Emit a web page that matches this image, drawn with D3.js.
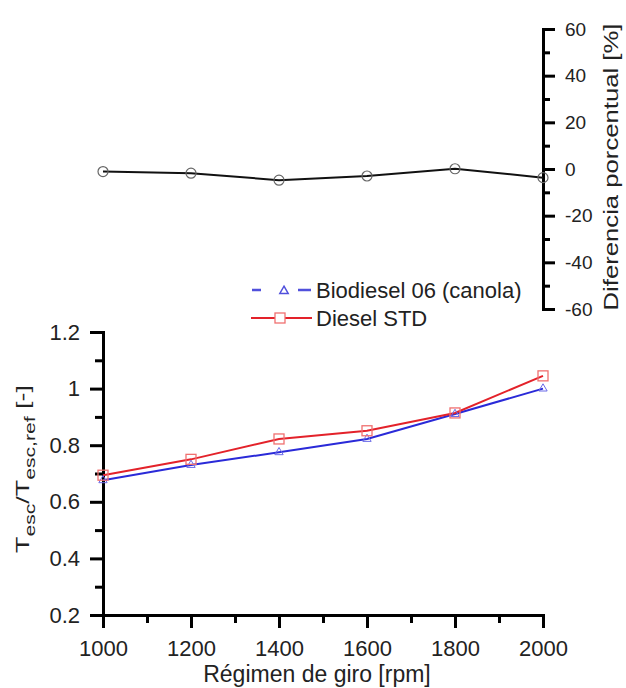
<!DOCTYPE html>
<html>
<head>
<meta charset="utf-8">
<script src="https://cdn.jsdelivr.net/npm/d3@7"></script>
<style>
  body { margin: 0; background: #fff; }
  svg { font-family: "Liberation Sans", Arial, sans-serif; }
</style>
</head>
<body>
<svg id="chart" width="626" height="688"></svg>
<script>
// data
var rpm = [1000, 1200, 1400, 1600, 1800, 2000];
var biodiesel = [0.676, 0.73, 0.775, 0.822, 0.91, 1.0];
var diesel = [0.694, 0.75, 0.822, 0.851, 0.914, 1.045];
var diffPct = [-1.1, -1.8, -4.8, -3.0, 0.1, -3.7];

var xTicks = [1000, 1200, 1400, 1600, 1800, 2000];
var yTicks = [0.2, 0.4, 0.6, 0.8, 1, 1.2];
var diffTicks = [-60, -40, -20, 0, 20, 40, 60];

var svg = d3.select("#chart");

var x = d3.scaleLinear().domain([1000, 2000]).range([103, 543]);
var y = d3.scaleLinear().domain([0.2, 1.2]).range([615, 332]);
var yd = d3.scaleLinear().domain([-60, 60]).range([309, 29]);

function styleAxis(size) {
  return function(g) {
    g.select(".domain").attr("stroke", "#000").attr("stroke-width", 3);
    g.selectAll(".tick line").attr("stroke", "#000").attr("stroke-width", 3);
    g.selectAll(".tick text").attr("font-size", size).attr("fill", "#222");
  };
}

// stretch a rotated label so it covers the same length as in the figure
function fitLength(sel, cx, cy, len) {
  var w = sel.node().getComputedTextLength();
  sel.attr("transform", "translate(" + cx + "," + cy + ") rotate(-90) scale(" + (len / w) + ",1)");
}

// ---- bottom chart axes ----
svg.append("g")
  .attr("transform", "translate(0,615)")
  .call(d3.axisBottom(x).tickValues(d3.range(1100, 2000, 200)).tickSize(8).tickFormat(""))
  .call(styleAxis(22));
svg.append("g")
  .attr("transform", "translate(103,0)")
  .call(d3.axisLeft(y).tickValues([0.3, 0.5, 0.7, 0.9, 1.1]).tickSize(8).tickFormat(""))
  .call(styleAxis(22));

svg.append("g")
  .attr("transform", "translate(0,615)")
  .call(d3.axisBottom(x).tickValues(xTicks).tickSize(13).tickSizeOuter(0).tickPadding(12).tickFormat(d3.format("d")))
  .call(styleAxis(22));

svg.append("g")
  .attr("transform", "translate(103,0)")
  .call(d3.axisLeft(y).tickValues(yTicks).tickSize(13).tickSizeOuter(0).tickPadding(10).tickFormat(function(d) { return String(+d.toFixed(1)); }))
  .call(styleAxis(22));

svg.append("text")
  .attr("x", 317).attr("y", 682)
  .attr("text-anchor", "middle")
  .attr("font-size", 23).attr("fill", "#222")
  .text("Régimen de giro [rpm]");

var yl = svg.append("text")
  .attr("text-anchor", "middle")
  .attr("font-size", 19).attr("fill", "#222");
yl.append("tspan").text("T");
yl.append("tspan").attr("font-size", 15).attr("dy", 6).text("esc");
yl.append("tspan").attr("dy", -6).text("/T");
yl.append("tspan").attr("font-size", 15).attr("dy", 6).text("esc,ref");
yl.append("tspan").attr("dy", -6).text(" [-]");
fitLength(yl, 29, 469, 168);

// ---- bottom chart series ----
var line = d3.line().x(function(d, i) { return x(rpm[i]); }).y(function(d) { return y(d); });

svg.append("path").datum(biodiesel)
  .attr("d", line).attr("fill", "none").attr("stroke", "#2a2ad8").attr("stroke-width", 2);
svg.append("path").datum(diesel)
  .attr("d", line).attr("fill", "none").attr("stroke", "#e3222a").attr("stroke-width", 2);

var tri = d3.symbol().type(d3.symbolTriangle).size(30);
svg.selectAll(".bio").data(biodiesel).enter().append("path")
  .attr("transform", function(d, i) { return "translate(" + x(rpm[i]) + "," + y(d) + ")"; })
  .attr("d", tri).attr("fill", "none").attr("stroke", "#6a6ae8").attr("stroke-width", 1);
svg.selectAll(".dsl").data(diesel).enter().append("rect")
  .attr("x", function(d, i) { return x(rpm[i]) - 5; })
  .attr("y", function(d) { return y(d) - 5; })
  .attr("width", 10).attr("height", 10)
  .attr("fill", "none").attr("stroke", "#f07070").attr("stroke-width", 1.3);

// ---- legend ----
var lg = svg.append("g");
lg.append("line").attr("x1", 252).attr("x2", 311).attr("y1", 290).attr("y2", 290)
  .attr("stroke", "#5050dc").attr("stroke-width", 2.5).attr("stroke-dasharray", "9,37,13,100");
lg.append("path").attr("transform", "translate(284,291)").attr("d", tri)
  .attr("fill", "none").attr("stroke", "#5050dc").attr("stroke-width", 1.5);
lg.append("text").attr("x", 316).attr("y", 298).attr("font-size", 22).attr("fill", "#222")
  .text("Biodiesel 06 (canola)");
lg.append("line").attr("x1", 251).attr("x2", 312).attr("y1", 318).attr("y2", 318)
  .attr("stroke", "#e3222a").attr("stroke-width", 2);
lg.append("rect").attr("x", 275).attr("y", 313).attr("width", 10).attr("height", 10)
  .attr("fill", "#fff").attr("stroke", "#f07070").attr("stroke-width", 1.3);
lg.append("text").attr("x", 316).attr("y", 326).attr("font-size", 22).attr("fill", "#222")
  .text("Diesel STD");

// ---- top chart (percent difference) ----
svg.append("g")
  .attr("transform", "translate(543,0)")
  .call(d3.axisRight(yd).tickValues([-50, -30, -10, 10, 30, 50]).tickSize(7).tickFormat(""))
  .call(styleAxis(19));
svg.append("g")
  .attr("transform", "translate(543,0)")
  .call(d3.axisRight(yd).tickValues(diffTicks).tickSize(12).tickSizeOuter(0).tickPadding(10).tickFormat(function(d) { return String(d); }))
  .call(styleAxis(19));

var rl = svg.append("text")
  .attr("text-anchor", "middle")
  .attr("font-size", 21).attr("fill", "#222")
  .text("Diferencia porcentual [%]");
fitLength(rl, 618, 167, 287);

var dline = d3.line().x(function(d, i) { return x(rpm[i]); }).y(function(d) { return yd(d); });
svg.append("path").datum(diffPct)
  .attr("d", dline).attr("fill", "none").attr("stroke", "#111").attr("stroke-width", 2);
svg.selectAll(".dif").data(diffPct).enter().append("circle")
  .attr("cx", function(d, i) { return x(rpm[i]); })
  .attr("cy", function(d) { return yd(d); })
  .attr("r", 5)
  .attr("fill", "none").attr("stroke", "#666").attr("stroke-width", 1.2);
</script>
</body>
</html>
